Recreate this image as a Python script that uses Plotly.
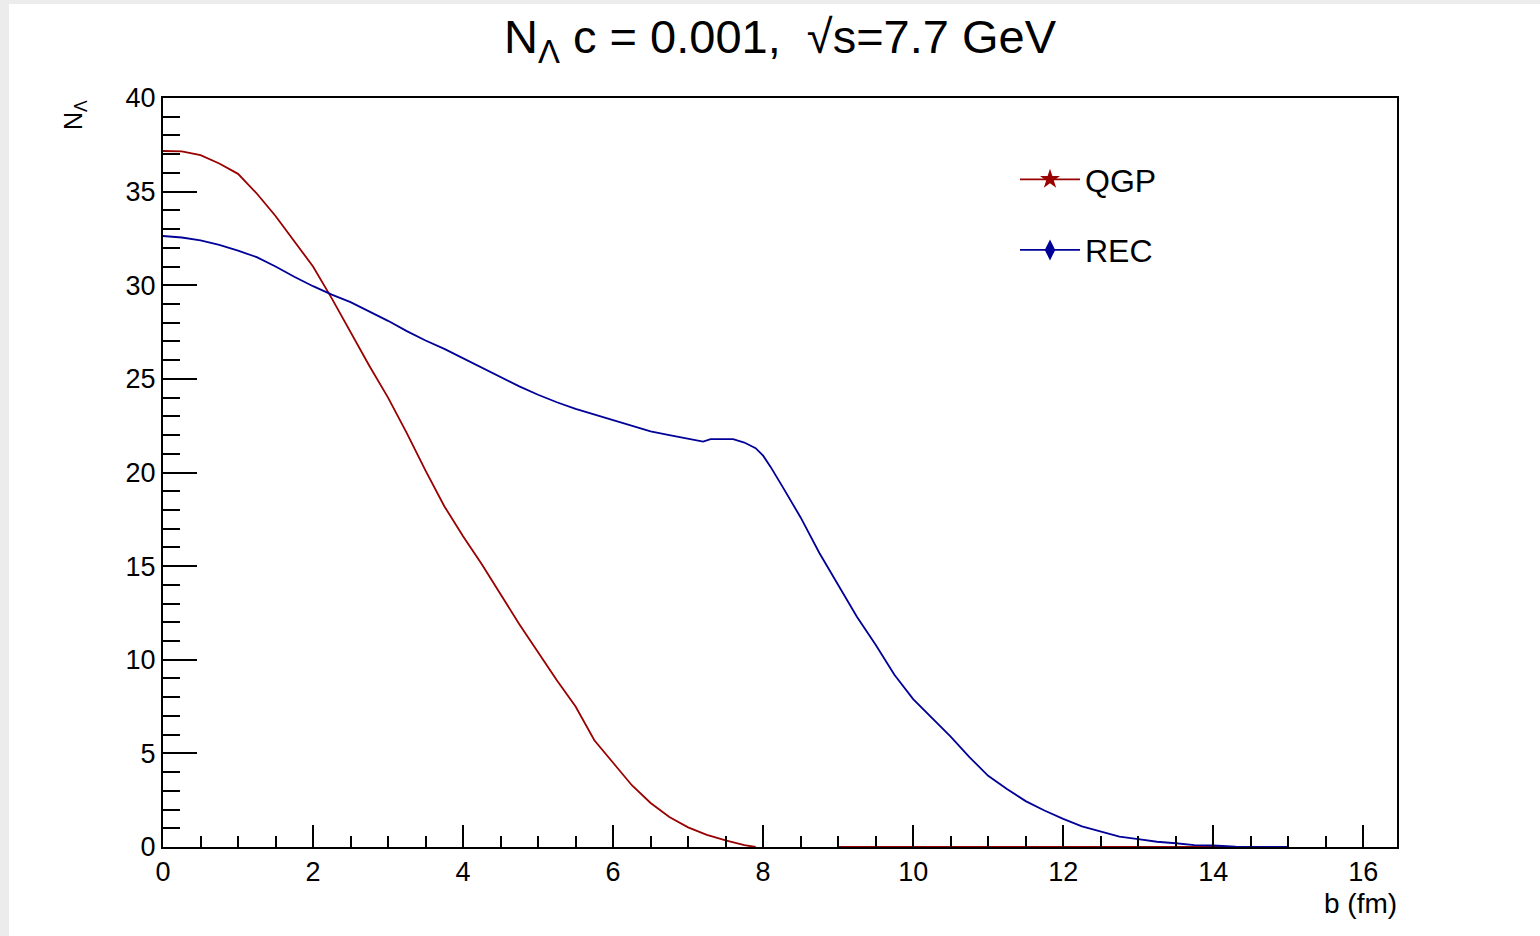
import plotly.graph_objects as go

# QGP (red)
qgp_b = [0, 0.25, 0.5, 0.75, 1.0, 1.25, 1.5, 1.75, 2.0, 2.25, 2.5, 2.75, 3.0, 3.25, 3.5,
         3.75, 4.0, 4.25, 4.5, 4.75, 5.0, 5.25, 5.5, 5.75, 6.0, 6.25, 6.5, 6.75, 7.0,
         7.25, 7.5, 7.75, 7.9, None, 9.0, 14.3]
qgp_n = [37.17, 37.15, 36.95, 36.5, 35.95, 34.9, 33.7, 32.35, 31.0, 29.3, 27.5, 25.7, 24.0,
         22.1, 20.1, 18.2, 16.6, 15.1, 13.5, 11.9, 10.4, 8.9, 7.5, 5.7, 4.5, 3.3, 2.35,
         1.6, 1.05, 0.65, 0.35, 0.1, 0.0, None, 0.0, 0.0]

# REC (blue)
rec_b = [0, 0.25, 0.5, 0.75, 1.0, 1.25, 1.5, 1.75, 2.0, 2.25, 2.5, 2.75, 3.0, 3.25, 3.5,
         3.75, 4.0, 4.25, 4.5, 4.75, 5.0, 5.25, 5.5, 5.75, 6.0, 6.25, 6.5, 6.75, 7.0,
         7.2, 7.3, 7.6, 7.75, 7.9, 8.0, 8.1, 8.25, 8.5, 8.75, 9.0, 9.25, 9.5, 9.75, 10.0,
         10.25, 10.5, 10.75, 11.0, 11.25, 11.5, 11.75, 12.0, 12.25, 12.5, 12.75, 13.0,
         13.25, 13.5, 13.75, 14.0, 14.3, 15.0]
rec_n = [32.63, 32.55, 32.4, 32.15, 31.85, 31.5, 31.0, 30.45, 29.95, 29.5, 29.1, 28.6, 28.1,
         27.55, 27.05, 26.6, 26.1, 25.6, 25.1, 24.6, 24.15, 23.75, 23.4, 23.1, 22.8, 22.5,
         22.2, 22.0, 21.8, 21.65, 21.78, 21.78, 21.6, 21.3, 20.9, 20.3, 19.3, 17.6, 15.7,
         14.0, 12.3, 10.8, 9.2, 7.9, 6.9, 5.9, 4.8, 3.8, 3.1, 2.45, 1.95, 1.5, 1.1, 0.82,
         0.55, 0.42, 0.28, 0.2, 0.1, 0.08, 0.02, 0.0]

series_names = ["QGP", "REC"]
title_text = "N<sub>Λ</sub> c = 0.001,  √s=7.7 GeV"

RED = "#990000"
BLUE = "#000099"
FONT = "Liberation Sans, Arial, sans-serif"

fig = go.Figure()
fig.add_trace(go.Scatter(x=qgp_b, y=qgp_n, mode="lines", line=dict(color=RED, width=1.8),
                         showlegend=False, connectgaps=False))
fig.add_trace(go.Scatter(x=rec_b, y=rec_n, mode="lines", line=dict(color=BLUE, width=1.8),
                         showlegend=False))
# legend entries
fig.add_trace(go.Scatter(x=[None], y=[None], mode="lines+markers", name=series_names[0],
                         line=dict(color=RED, width=1.8), legendgroup="a",
                         marker=dict(symbol="star", size=15, color=RED)))
fig.add_trace(go.Scatter(x=[None], y=[None], mode="lines+markers", name=series_names[1],
                         line=dict(color=BLUE, width=1.8), legendgroup="b",
                         marker=dict(symbol="diamond-tall", size=15, color=BLUE)))

L, R, T, B = 163, 143, 98, 89
W, H = 1540, 936
pw, ph = W - L - R, H - T - B

def px_x(p):
    return (p - L) / pw

def px_y(p):
    return (H - B - p) / ph

# grey frame strips (left and top)
fig.add_shape(type="rect", xref="paper", yref="paper", layer="below", line_width=0,
              fillcolor="#ececec", x0=px_x(0), x1=px_x(9), y0=px_y(H), y1=px_y(0))
fig.add_shape(type="rect", xref="paper", yref="paper", layer="below", line_width=0,
              fillcolor="#ececec", x0=px_x(0), x1=px_x(W), y0=px_y(4), y1=px_y(0))

fig.update_layout(
    width=W, height=H,
    margin=dict(l=L, r=R, t=T, b=B, autoexpand=False),
    paper_bgcolor="white", plot_bgcolor="white",
    font=dict(family=FONT, color="black"),
    title=dict(text=title_text, x=780 / W, xanchor="center", y=1 - 37 / H, yanchor="middle",
               font=dict(size=47, family=FONT, color="black")),
    legend=dict(x=px_x(1015), y=px_y(152), xanchor="left", yanchor="top",
                font=dict(size=32, family=FONT), bgcolor="rgba(0,0,0,0)",
                tracegroupgap=26, itemwidth=60),
    showlegend=True,
)

fig.update_xaxes(range=[0, 16.45], showline=True, linecolor="black", linewidth=2, mirror=True,
                 ticks="inside", ticklen=22, tickwidth=2, tickcolor="black", dtick=2, tick0=0,
                 showgrid=False, zeroline=False,
                 tickfont=dict(size=27, family=FONT, color="black"),
                 minor=dict(ticks="inside", ticklen=11, tickwidth=2, tickcolor="black",
                            dtick=0.5, showgrid=False))
fig.update_yaxes(range=[0, 40], showline=True, linecolor="black", linewidth=2, mirror=True,
                 ticks="inside", ticklen=34, tickwidth=2, tickcolor="black", dtick=5, tick0=0,
                 showgrid=False, zeroline=False,
                 tickfont=dict(size=27, family=FONT, color="black"),
                 minor=dict(ticks="inside", ticklen=17, tickwidth=2, tickcolor="black",
                            dtick=1, showgrid=False))

fig.add_annotation(text="N<sub>Λ</sub>", xref="paper", yref="paper", x=px_x(75), y=px_y(98),
                   xanchor="center", yanchor="top", textangle=-90, showarrow=False,
                   font=dict(size=25, family=FONT, color="black"))
fig.add_annotation(text="b (fm)", xref="paper", yref="paper", x=px_x(1399), y=px_y(886),
                   xanchor="right", yanchor="top", showarrow=False,
                   font=dict(size=28, family=FONT, color="black"))

fig.write_html("out.html", config={"displayModeBar": False},
               post_script="document.body.style.margin='0';document.body.style.overflow='hidden';")
